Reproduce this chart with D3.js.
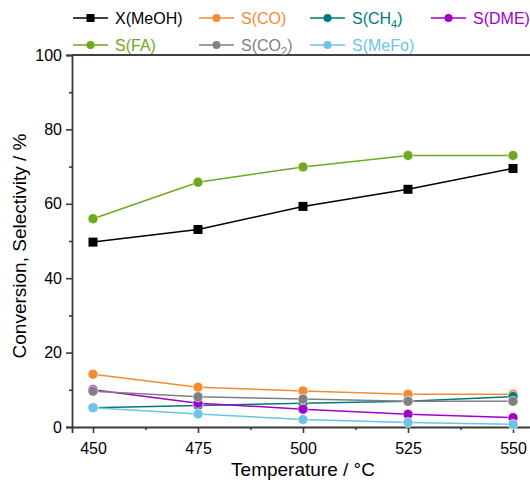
<!DOCTYPE html>
<html><head><meta charset="utf-8">
<script src="https://cdn.jsdelivr.net/npm/d3@7"></script>
<style>body{margin:0;background:#fff}svg{display:block;font-family:Arial,"Liberation Sans",sans-serif}</style>
</head><body><svg id="c" width="530" height="485"></svg>
<script>
const temperatures = [450, 475, 500, 525, 550];
const xMeOH = [49.7, 53.1, 59.3, 63.9, 69.5];
const sCO = [14.2, 10.7, 9.7, 8.8, 8.8];
const sCH4 = [5.2, 5.8, 6.4, 6.9, 8.2];
const sDME = [10.0, 6.4, 4.8, 3.4, 2.5];
const sFA = [56.0, 65.8, 69.9, 73.0, 73.0];
const sCO2 = [9.6, 8.1, 7.5, 6.9, 6.9];
const sMeFo = [5.2, 3.5, 2.0, 1.2, 0.7];
const xTicks = [450, 475, 500, 525, 550];
const yTicks = [0, 20, 40, 60, 80, 100];

const series = [
  {name: "X(MeOH)", sub: null, values: xMeOH, color: "#000000", marker: "square"},
  {name: "S(CO)", sub: null, values: sCO, color: "#F28C33", marker: "circle"},
  {name: "S(CH", sub: "4", tail: ")", values: sCH4, color: "#007A7A", marker: "circle"},
  {name: "S(DME)", sub: null, values: sDME, color: "#A000C8", marker: "circle"},
  {name: "S(FA)", sub: null, values: sFA, color: "#6FA91E", marker: "circle"},
  {name: "S(CO", sub: "2", tail: ")", values: sCO2, color: "#808080", marker: "circle"},
  {name: "S(MeFo)", sub: null, values: sMeFo, color: "#6CC4E2", marker: "circle"}
];

const svg = d3.select("#c");
const x = d3.scaleLinear().domain([445, 555]).range([72, 534]);
const y = d3.scaleLinear().domain([0, 100]).range([427, 55]);
const axisColor = "#3a3a3a";

// top frame line
svg.append("line").attr("x1", x(445)).attr("x2", x(555)).attr("y1", y(100)).attr("y2", y(100))
  .attr("stroke", "#000").attr("stroke-width", 1.6);

// x axis
const gx = svg.append("g").attr("transform", `translate(0,${y(0)})`)
  .call(d3.axisBottom(x).tickValues(xTicks).tickSize(6).tickPadding(10).tickFormat(d3.format("d")));
gx.select(".domain").attr("stroke", axisColor).attr("stroke-width", 1.8);
gx.selectAll(".tick line").attr("stroke", axisColor).attr("stroke-width", 1.6);
gx.selectAll(".tick text").attr("font-size", 16).attr("fill", "#000").attr("font-family", "Arial, 'Liberation Sans', sans-serif");
const gxm = svg.append("g").attr("transform", `translate(0,${y(0)})`)
  .call(d3.axisBottom(x).tickValues([462.5, 487.5, 512.5, 537.5]).tickSize(3).tickFormat(""));
gxm.select(".domain").remove();
gxm.selectAll(".tick line").attr("stroke", axisColor).attr("stroke-width", 1.6);

// y axis
const gy = svg.append("g").attr("transform", `translate(${x(445)},0)`)
  .call(d3.axisLeft(y).tickValues(yTicks).tickSize(6).tickPadding(4));
gy.select(".domain").attr("stroke", axisColor).attr("stroke-width", 1.8);
gy.selectAll(".tick line").attr("stroke", axisColor).attr("stroke-width", 1.6);
gy.selectAll(".tick text").attr("font-size", 16).attr("fill", "#000").attr("font-family", "Arial, 'Liberation Sans', sans-serif");
const gym = svg.append("g").attr("transform", `translate(${x(445)},0)`)
  .call(d3.axisLeft(y).tickValues([10, 30, 50, 70, 90]).tickSize(3).tickFormat(""));
gym.select(".domain").remove();
gym.selectAll(".tick line").attr("stroke", axisColor).attr("stroke-width", 1.6);

// axis titles
svg.append("text").attr("x", 303).attr("y", 476).attr("text-anchor", "middle")
  .attr("font-size", 19).text("Temperature / °C");
svg.append("text").attr("transform", `translate(26,${(y(0)+y(100))/2 + 5}) rotate(-90)`)
  .attr("text-anchor", "middle").attr("font-size", 19).text("Conversion, Selectivity / %");

// series (legend order)
const line = d3.line().x((d, i) => x(temperatures[i])).y(d => y(d));
series.forEach(s => {
  const g = svg.append("g");
  g.append("path").datum(s.values).attr("d", line).attr("fill", "none")
    .attr("stroke", s.color).attr("stroke-width", 1.5);
  if (s.marker === "square") {
    g.selectAll("rect").data(s.values).join("rect")
      .attr("x", (d, i) => x(temperatures[i]) - 4.5).attr("y", d => y(d) - 4.5)
      .attr("width", 9).attr("height", 9).attr("fill", s.color);
  } else {
    g.selectAll("circle").data(s.values).join("circle")
      .attr("cx", (d, i) => x(temperatures[i])).attr("cy", d => y(d)).attr("r", 5)
      .attr("fill", s.color).attr("stroke", "#fff").attr("stroke-width", 0.6);
  }
});

// legend
const legendPos = [[73, 18], [199, 18], [310, 18], [431, 18], [73, 45], [199, 45], [310, 45]];
series.forEach((s, i) => {
  const [lx, ly] = legendPos[i];
  const g = svg.append("g");
  g.append("line").attr("x1", lx).attr("x2", lx + 35).attr("y1", ly).attr("y2", ly)
    .attr("stroke", s.color).attr("stroke-width", 1.5);
  if (s.marker === "square") {
    g.append("rect").attr("x", lx + 17.5 - 4).attr("y", ly - 4).attr("width", 8).attr("height", 8).attr("fill", s.color);
  } else {
    g.append("circle").attr("cx", lx + 17.5).attr("cy", ly).attr("r", 4).attr("fill", s.color);
  }
  const t = g.append("text").attr("x", lx + 42).attr("y", ly + 6).attr("font-size", 16).attr("fill", s.color);
  t.append("tspan").text(s.name);
  if (s.sub) {
    t.append("tspan").attr("font-size", 11).attr("dy", 4).text(s.sub);
    t.append("tspan").attr("dy", -4).text(s.tail);
  }
});
</script></body></html>
